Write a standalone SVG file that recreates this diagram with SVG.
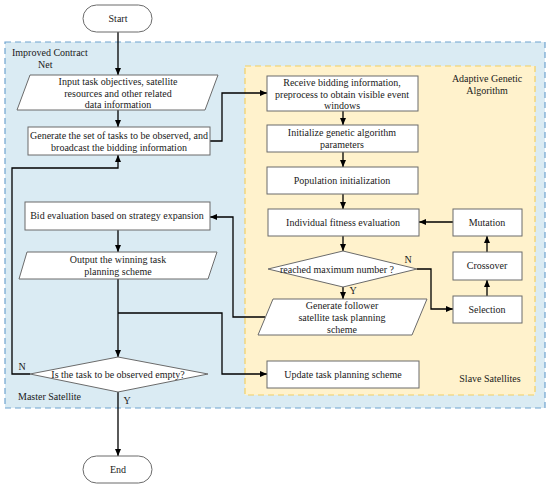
<svg xmlns="http://www.w3.org/2000/svg" width="550" height="489" viewBox="0 0 550 489" font-family="'Liberation Serif', 'Times New Roman', serif">
<defs>
<marker id="ah" markerWidth="8" markerHeight="8" refX="7" refY="4" orient="auto" markerUnits="userSpaceOnUse">
<path d="M0,1 L7,4 L0,7 Z" fill="#000"/>
</marker>
</defs>
<style>
text{font-family:'Liberation Serif','Times New Roman',serif;font-size:10px;fill:#1a1a1a;text-anchor:middle;}
.lbl{text-anchor:start;}
.box{fill:#fff;stroke:#6b6b6b;stroke-width:1;}
.conn{fill:none;stroke:#000;stroke-width:1.3;}
.arr{marker-end:url(#ah);}
</style>
<rect x="0" y="0" width="550" height="489" fill="#fff"/>
<g id="region-master">
<rect x="5" y="42" width="540" height="366" fill="#daebf3" stroke="#6fa3cf" stroke-width="1.2" stroke-dasharray="6,4"/>
<text class="lbl" x="12" y="56">Improved Contract</text>
<text class="lbl" x="38" y="68">Net</text>
<text class="lbl" x="18" y="400">Master Satellite</text>
</g>
<g id="region-slave">
<rect x="245" y="66" width="290" height="329" fill="#fff2cc" stroke="#f2d064" stroke-width="1.2" stroke-dasharray="6,4"/>
<text x="487" y="82">Adaptive Genetic</text>
<text x="487" y="94">Algorithm</text>
<text x="490" y="382">Slave Satellites</text>
</g>
<g id="connectors">
<path class="conn arr" d="M118,32 L118,75"/>
<path class="conn arr" d="M118,110 L118,127"/>
<path class="conn arr" d="M210,141 L222,141 L222,93 L267,93"/>
<path class="conn arr" d="M343,111 L343,125"/>
<path class="conn arr" d="M343,152 L343,167"/>
<path class="conn arr" d="M343,194 L343,209"/>
<path class="conn arr" d="M343,236 L343,251"/>
<path class="conn arr" d="M343,287 L343,299"/>
<path class="conn arr" d="M417,269 L431,269 L431,309 L453,309"/>
<path class="conn arr" d="M487,296 L487,280"/>
<path class="conn arr" d="M487,252 L487,236"/>
<path class="conn arr" d="M453,222 L419,222"/>
<path class="conn arr" d="M265,317 L233,317 L233,217 L210,217"/>
<path class="conn arr" d="M118,230 L118,252"/>
<path class="conn arr" d="M118,279 L118,357"/>
<path class="conn arr" d="M118,313 L222,313 L222,374 L267,374"/>
<path class="conn arr" d="M30,374 L12,374 L12,168 L118,168 L118,155"/>
<path class="conn arr" d="M118,392 L118,456"/>
<text x="22" y="370">N</text>
<text x="127" y="404">Y</text>
<text x="408" y="263">N</text>
<text x="353" y="294">Y</text>
</g>
<g id="start">
<rect x="83" y="5" width="69" height="27" rx="13.5" class="box"/>
<text x="118" y="22">Start</text>
</g>
<g id="input">
<polygon points="30,75 218,75 205,110 17,110" class="box"/>
<text x="118" y="85">Input task objectives, satellite</text>
<text x="118" y="97">resources and other related</text>
<text x="118" y="108">data information</text>
</g>
<g id="generate">
<rect x="28" y="127" width="182" height="28" class="box"/>
<text x="119" y="139">Generate the set of tasks to be observed, and</text>
<text x="119" y="151">broadcast the bidding information</text>
</g>
<g id="receive">
<rect x="267" y="76" width="151" height="35" class="box"/>
<text x="342" y="86">Receive bidding information,</text>
<text x="342" y="98">preprocess to obtain visible event</text>
<text x="342" y="109">windows</text>
</g>
<g id="init-ga">
<rect x="267" y="125" width="151" height="27" class="box"/>
<text x="342" y="136">Initialize genetic algorithm</text>
<text x="342" y="148">parameters</text>
</g>
<g id="population">
<rect x="267" y="167" width="151" height="27" class="box"/>
<text x="342" y="184">Population initialization</text>
</g>
<g id="fitness">
<rect x="268" y="209" width="151" height="27" class="box"/>
<text x="343" y="226">Individual fitness evaluation</text>
</g>
<g id="mutation">
<rect x="453" y="209" width="69" height="27" class="box"/>
<text x="487" y="226">Mutation</text>
</g>
<g id="crossover">
<rect x="453" y="252" width="69" height="28" class="box"/>
<text x="487" y="269">Crossover</text>
</g>
<g id="selection">
<rect x="453" y="296" width="69" height="27" class="box"/>
<text x="487" y="313">Selection</text>
</g>
<g id="max-decision">
<polygon points="343,251 417,269 343,287 268,269" class="box"/>
<text x="337" y="273">reached maximum number ?</text>
</g>
<g id="follower">
<polygon points="273,299 427,299 412,335 258,335" class="box"/>
<text x="342" y="309">Generate follower</text>
<text x="342" y="321">satellite task planning</text>
<text x="342" y="333">scheme</text>
</g>
<g id="bid">
<rect x="25" y="202" width="185" height="28" class="box"/>
<text x="117" y="219">Bid evaluation based on strategy expansion</text>
</g>
<g id="output">
<polygon points="27,252 217,252 208,279 19,279" class="box"/>
<text x="118" y="263">Output the winning task</text>
<text x="118" y="275">planning scheme</text>
</g>
<g id="update">
<rect x="267" y="361" width="152" height="27" class="box"/>
<text x="343" y="378">Update task planning scheme</text>
</g>
<g id="empty-decision">
<polygon points="118,357 208,374 118,392 30,374" class="box"/>
<text x="118" y="378">Is the task to be observed empty?</text>
</g>
<g id="end">
<rect x="83" y="456" width="69" height="27" rx="13.5" class="box"/>
<text x="118" y="473">End</text>
</g>
</svg>
